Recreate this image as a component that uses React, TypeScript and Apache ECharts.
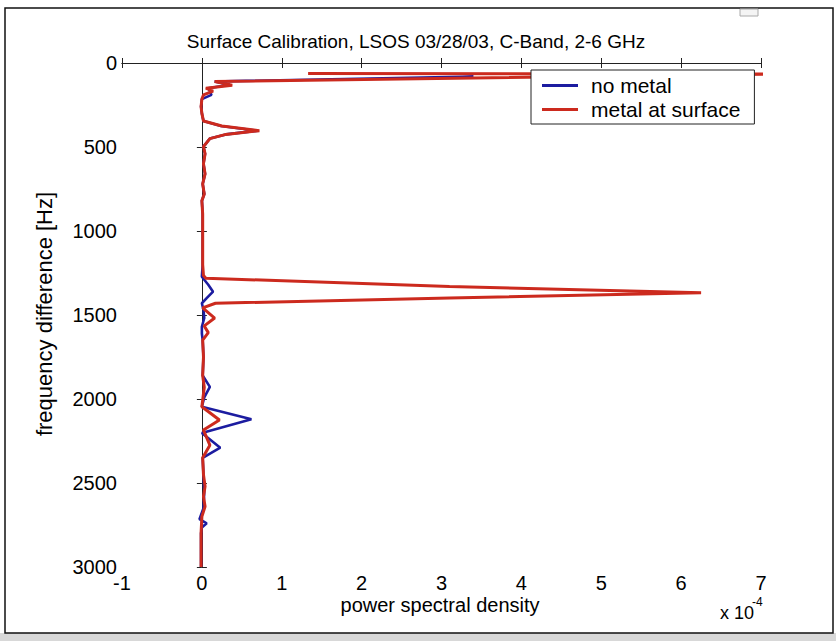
import React, { useEffect, useRef } from "react";
import * as echarts from "echarts";

// ---- data (psd in units of 1e-4, frequency difference in Hz) ----
const noMetalFreq = [100, 80, 110, 130, 150, 168, 190, 215, 260, 300, 345, 375, 403, 425, 450, 498, 540, 600, 660, 720, 780, 820, 900, 1000, 1100, 1200, 1272, 1320, 1361, 1400, 1430, 1470, 1518, 1570, 1610, 1650, 1750, 1860, 1928, 1990, 2046, 2121, 2202, 2290, 2351, 2450, 2550, 2650, 2715, 2740, 2765, 2800, 2900, 3000];
const noMetalPsd = [1.6, 3.4, 0.16, 0.35, 0.08, 0.1, 0.12, 0.0, -0.01, 0.0, 0.02, 0.24, 0.7, 0.3, 0.1, 0.02, 0.04, 0.02, 0.04, 0.01, 0.03, 0.0, 0.01, 0.01, 0.01, 0.01, 0.0, 0.08, 0.14, 0.06, 0.0, 0.02, 0.03, 0.0, 0.0, 0.01, 0.02, 0.01, 0.1, 0.03, 0.0, 0.62, 0.0, 0.23, 0.01, 0.02, 0.03, 0.02, -0.03, 0.06, 0.0, -0.01, -0.01, -0.01];

const metalFreq = [62, 66, 110, 132, 150, 168, 190, 215, 260, 300, 345, 375, 403, 425, 450, 498, 540, 600, 660, 720, 780, 820, 900, 1000, 1100, 1200, 1265, 1281, 1331, 1367, 1399, 1430, 1458, 1518, 1565, 1605, 1650, 1750, 1860, 1930, 2046, 2125, 2185, 2275, 2350, 2450, 2520, 2580, 2640, 2700, 2800, 2900, 3000];
const metalPsd = [1.33, 7.08, 0.16, 0.38, 0.05, 0.14, 0.02, 0.0, -0.01, 0.0, 0.02, 0.25, 0.72, 0.3, 0.1, 0.02, 0.04, 0.02, 0.04, 0.01, 0.03, 0.0, 0.01, 0.01, 0.01, 0.01, 0.02, 0.05, 3.1, 6.25, 3.1, 0.17, 0.01, 0.16, 0.03, 0.08, 0.01, 0.02, 0.01, 0.03, 0.0, 0.22, 0.02, 0.1, 0.01, 0.02, 0.04, 0.02, 0.04, 0.0, -0.01, -0.01, -0.01];

const seriesNames = ["no metal", "metal at surface"];
const titleText = "Surface Calibration, LSOS 03/28/03, C-Band, 2-6 GHz";
const xLabel = "power spectral density";
const yLabel = "frequency difference [Hz]";
const xMin = -1, xMax = 7, xStep = 1;
const yMin = 0, yMax = 3000, yStep = 500;

const FONT = "Liberation Sans, Arial, Helvetica, sans-serif";
const BLUE = "#1c1ca0";
const RED = "#cc2a1e";

export default function App() {
  const ref = useRef<HTMLDivElement>(null);
  useEffect(() => {
    if (!ref.current) return;
    const chart = echarts.init(ref.current, undefined, { renderer: "svg" });
    const blueData = noMetalPsd.map((v, i) => [v, noMetalFreq[i]]);
    const redData = metalPsd.map((v, i) => [v, metalFreq[i]]);
    const axisLine = { show: true, lineStyle: { color: "#222", width: 1 } };
    const tick = { show: true, inside: true, length: 5, lineStyle: { color: "#222" } };
    const label = { color: "#000", fontSize: 20, fontFamily: FONT, formatter: (v: number) => String(v) };
    chart.setOption({
      animation: false,
      backgroundColor: "#fff",
      grid: { left: 122, top: 63, width: 639, height: 504, containLabel: false },
      xAxis: [
        { type: "value", position: "bottom", min: xMin, max: xMax, interval: xStep, axisLine, axisTick: tick, splitLine: { show: false }, axisLabel: { ...label, margin: 6 } },
        { type: "value", position: "top", min: xMin, max: xMax, interval: xStep, axisLine, axisTick: tick, splitLine: { show: false }, axisLabel: { show: false } },
      ],
      yAxis: [
        { type: "value", position: "left", inverse: true, min: yMin, max: yMax, interval: yStep, axisLine, axisTick: tick, splitLine: { show: false }, axisLabel: { ...label, margin: 5 } },
        { type: "value", position: "right", inverse: true, min: yMin, max: yMax, interval: yStep, axisLine, axisTick: tick, splitLine: { show: false }, axisLabel: { show: false } },
      ],
      legend: {
        data: seriesNames,
        orient: "vertical",
        left: 531,
        top: 70,
        backgroundColor: "#fff",
        borderColor: "#222",
        borderWidth: 1,
        borderRadius: 0,
        padding: [5, 14, 4, 11],
        itemGap: 3,
        itemWidth: 36,
        itemHeight: 3,
        icon: "rect",
        textStyle: { color: "#000", fontSize: 21, fontFamily: FONT, padding: [0, 0, 0, 8], lineHeight: 20 },
      },
      series: [
        { name: seriesNames[0], type: "line", data: blueData, showSymbol: false, symbol: "none", color: BLUE, lineStyle: { color: BLUE, width: 2.6 }, z: 2 },
        { name: seriesNames[1], type: "line", data: redData, showSymbol: false, symbol: "none", color: RED, clip: false, lineStyle: { color: RED, width: 3 }, z: 3 },
      ],
      graphic: [
        { type: "rect", z: -10, shape: { x: 0, y: 633, width: 836, height: 8 }, style: { fill: "#d8d8d8" } },
        { type: "rect", z: 100, shape: { x: 5, y: 8, width: 828, height: 625 }, style: { fill: "none", stroke: "#111", lineWidth: 1.5 } },
        { type: "rect", z: 100, shape: { x: 740, y: 9, width: 18, height: 7 }, style: { fill: "#f4f4f4", stroke: "#aaa", lineWidth: 1 } },
        { type: "text", x: 416, y: 41, style: { text: titleText, fill: "#000", fontSize: 19, fontFamily: FONT, textAlign: "center", textVerticalAlign: "middle" } },
        { type: "text", x: 440, y: 605, style: { text: xLabel, fill: "#000", fontSize: 20, fontFamily: FONT, textAlign: "center", textVerticalAlign: "middle" } },
        { type: "text", x: 44, y: 314, rotation: Math.PI / 2, style: { text: yLabel, fill: "#000", fontSize: 22, fontFamily: FONT, textAlign: "center", textVerticalAlign: "middle" } },
        { type: "text", x: 720, y: 613, style: { text: "x 10", fill: "#000", fontSize: 18, fontFamily: FONT, textAlign: "left", textVerticalAlign: "middle" } },
        { type: "text", x: 752, y: 602, style: { text: "-4", fill: "#000", fontSize: 12, fontFamily: FONT, textAlign: "left", textVerticalAlign: "middle" } },
      ],
    });
    return () => chart.dispose();
  }, []);
  return <div ref={ref} style={{ position: "fixed", left: 0, top: 0, width: 836, height: 641 }} />;
}
